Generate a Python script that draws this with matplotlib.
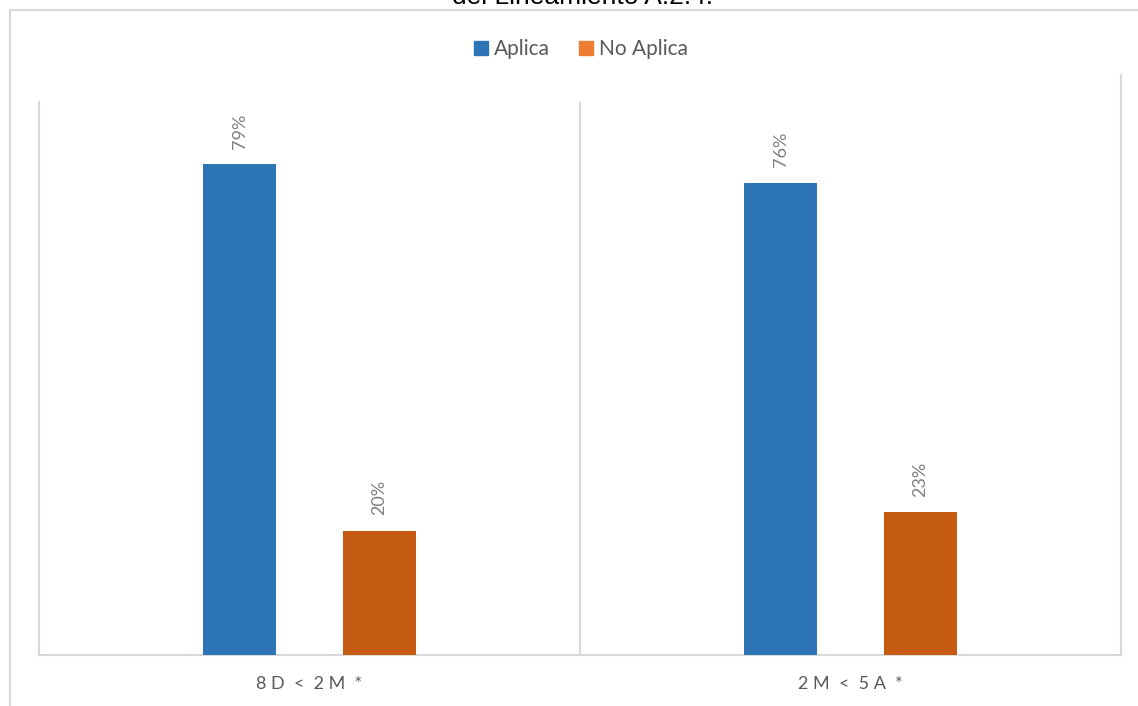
import matplotlib.pyplot as plt
import numpy as np
from matplotlib.patches import Patch
from matplotlib.lines import Line2D

categories = ['8 D  <  2 M  *', '2 M  <  5 A  *']
aplica = [79, 76]
no_aplica = [20, 23]
series_names = ['Aplica', 'No Aplica']

W, H = 1138, 706
fig = plt.figure(figsize=(W / 100, H / 100), dpi=100)
plt.rcParams['font.family'] = ['Lato', 'DejaVu Sans']

grid_c = '#d9d9d9'
blue = '#2e75b6'
orange_bar = '#c55a11'
orange_leg = '#ed7d31'


def px(x, y):
    return x / W, 1 - y / H


# outer chart frame (top and left edges)
fig.add_artist(Line2D([10 / W, 1], [1 - 10 / H] * 2, color=grid_c, lw=1.5))
fig.add_artist(Line2D([10 / W] * 2, [0, 1 - 10 / H], color=grid_c, lw=1.5))

# title, mostly cut off at the top edge
fig.text(582 / W, 1 - 3.5 / H, 'del Lineamiento A.2.4.', ha='center', va='baseline',
         fontsize=19, family=['Liberation Sans'], color='black')

left, top, right, bottom = 39, 102, 1121, 655
ax = fig.add_axes([left / W, 1 - bottom / H, (right - left) / W, (bottom - top) / H])

x = np.arange(len(categories))
width = 0.135
off = 0.129
b1 = ax.bar(x - off, aplica, width, color=blue, zorder=3)
b2 = ax.bar(x + off, no_aplica, width, color=orange_bar, zorder=3)

for bars, vals in [(b1, aplica), (b2, no_aplica)]:
    for r, v in zip(bars, vals):
        ax.annotate(f'{v}%', (r.get_x() + r.get_width() / 2, v), xytext=(0, 11),
                    textcoords='offset points', ha='center', va='bottom',
                    rotation=90, fontsize=13, color='#7f7f7f')

ax.set_xlim(-0.5, 1.5)
ax.set_ylim(0, 89)
ax.axvline(0.5, color=grid_c, lw=1.5, zorder=1)
ax.set_yticks([])
ax.set_xticks(x)
ax.set_xticklabels(categories, fontsize=13, color='#595959')
ax.tick_params(axis='x', length=0, pad=15)
for s in ['top', 'right']:
    ax.spines[s].set_visible(False)
for s in ['left', 'bottom']:
    ax.spines[s].set_color(grid_c)
    ax.spines[s].set_linewidth(1.5)

# right edge of plot area
fig.add_artist(Line2D([right / W] * 2, [1 - bottom / H, 1 - 75 / H], color=grid_c, lw=1.5))

handles = [Patch(color=blue), Patch(color=orange_leg)]
fig.legend(handles, series_names, loc='center', bbox_to_anchor=px(581, 49), ncol=2,
           frameon=False, fontsize=15, labelcolor='#595959', handlelength=0.65,
           handleheight=0.65, handletextpad=0.3, columnspacing=1.4)

fig.savefig('out.png', dpi=100)
